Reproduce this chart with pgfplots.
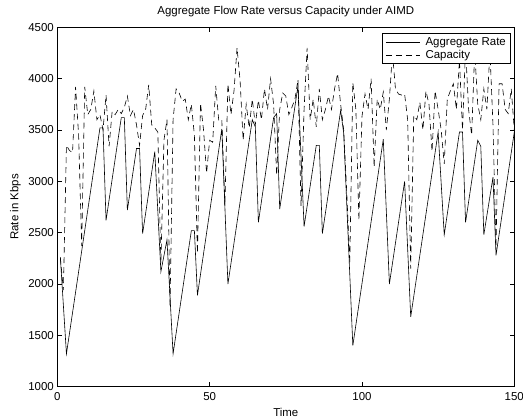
\documentclass[border=0pt]{standalone}
\usepackage{fontspec}
\setmainfont{Liberation Sans}
\usepackage{pgfplots}
\usepackage{pgfplotstable}
\pgfplotsset{compat=1.18}

% aggregate rate (AIMD sawtooth)
\pgfplotstableread{
t rate
1 2260
3 1320
14 3520
15 3520
16 2620
21 3620
22 3620
23 2720
26 3320
27 3320
28 2490
32 3290
34 2120
36 2430
38 1320
44 2520
45 2520
46 1890
54 3510
56 2000
64 3600
65 3530
66 2600
71 3620
72 3660
73 2730
79 3930
81 2560
85 3350
86 3350
87 2490
93 3690
94 3470
97 1400
107 3410
109 2000
114 3000
116 1680
125 3480
127 2480
132 3480
133 3480
134 2600
138 3400
139 3340
140 2480
143 3040
144 2280
150 3480
}\ratetab

% link capacity
\pgfplotstableread{
t cap
1 2260
2 1940
3 3350
4 3300
5 3280
6 3920
7 3450
8 2370
9 3920
10 3650
11 3700
12 3880
13 3600
14 3650
15 3500
16 3840
17 3340
18 3680
19 3650
20 3700
21 3660
22 3720
23 3830
24 3640
25 3700
26 3550
27 3350
28 3640
29 3700
30 3940
31 3550
32 3520
33 3480
34 2200
35 3400
36 3600
37 1780
38 3600
39 3900
40 3860
41 3780
42 3800
43 3600
44 3750
45 3450
46 2300
47 3760
48 3500
49 3080
50 3400
51 3380
52 3930
53 3590
54 3600
55 2760
56 3950
57 3650
58 3880
59 4300
60 3980
61 3400
62 3750
63 3520
64 3800
65 3550
66 3790
67 3600
68 3900
69 3700
70 4000
71 3750
72 3060
73 3700
74 3860
75 3830
76 3650
77 3720
78 3800
79 3990
80 2760
81 3700
82 4300
83 3600
84 3800
85 3530
86 3900
87 3600
88 3700
89 3830
90 3700
91 3900
92 4050
93 3750
94 3500
95 2900
96 2200
97 3960
98 3700
99 2620
100 3630
101 3850
102 3700
103 4000
104 3140
105 3800
106 3700
107 3870
108 3500
109 3800
110 4250
111 3900
112 3850
113 3840
114 3850
115 3600
116 2150
117 3640
118 3600
119 3770
120 3500
121 3880
122 3750
123 3290
124 3880
125 3700
126 3500
127 3170
128 3800
129 3880
130 3950
131 3700
132 4180
133 3500
134 4300
135 3700
136 3450
137 4270
138 3750
139 3600
140 3900
141 3700
142 4270
143 3550
144 2360
145 3950
146 3950
147 3700
148 3660
149 3900
150 3500
}\captab

\begin{document}
\begin{tikzpicture}[font=\fontsize{11.5}{13}\selectfont]
\begin{axis}[
  width=457bp, height=359.4bp, scale only axis,
  xmin=0, xmax=150, ymin=1000, ymax=4500,
  xtick={0,50,100,150}, ytick={1000,1500,...,4500},
  tick align=inside, major tick length=4.5bp,
  tick style={black, line width=0.6bp},
  axis line style={line width=0.6bp},
  /pgf/number format/assume math mode=true,
  /pgf/number format/1000 sep={},
  xticklabel style={anchor=base, yshift=-14bp},
  clip=false,
  legend style={at={(0.992,0.983)}, anchor=north east, draw=black,
    line width=0.6bp, fill=white, inner xsep=3bp, inner ysep=2.5bp,
    row sep=1.5bp, nodes={inner xsep=1.5bp, inner ysep=1bp}},
  legend cell align=left,
  legend image code/.code={\draw[#1] (0bp,0bp) -- (34bp,0bp); \path (38bp,0bp);},
]
\addplot[black, line width=0.6bp] table[x=t, y=rate] {\ratetab};
\addplot[black, line width=0.6bp, dash pattern=on 6bp off 4bp] table[x=t, y=cap] {\captab};
\legend{Aggregate Rate, Capacity}
\coordinate (bl) at (rel axis cs:0,0);
\coordinate (tr) at (rel axis cs:1,1);
\node[anchor=base] at ([yshift=12.5bp]rel axis cs:0.5,1) {Aggregate Flow Rate versus Capacity under AIMD};
\node[anchor=base] at ([yshift=-29.3bp]rel axis cs:0.5,0) {Time};
\node[rotate=90, anchor=base] at ([xshift=-39bp]rel axis cs:0,0.5) {Rate in Kbps};
\end{axis}
\pgfresetboundingbox
\path ([shift={(-57.3bp,-33.3bp)}]bl) rectangle ([shift={(8.7bp,27.3bp)}]tr);
\end{tikzpicture}
\end{document}
